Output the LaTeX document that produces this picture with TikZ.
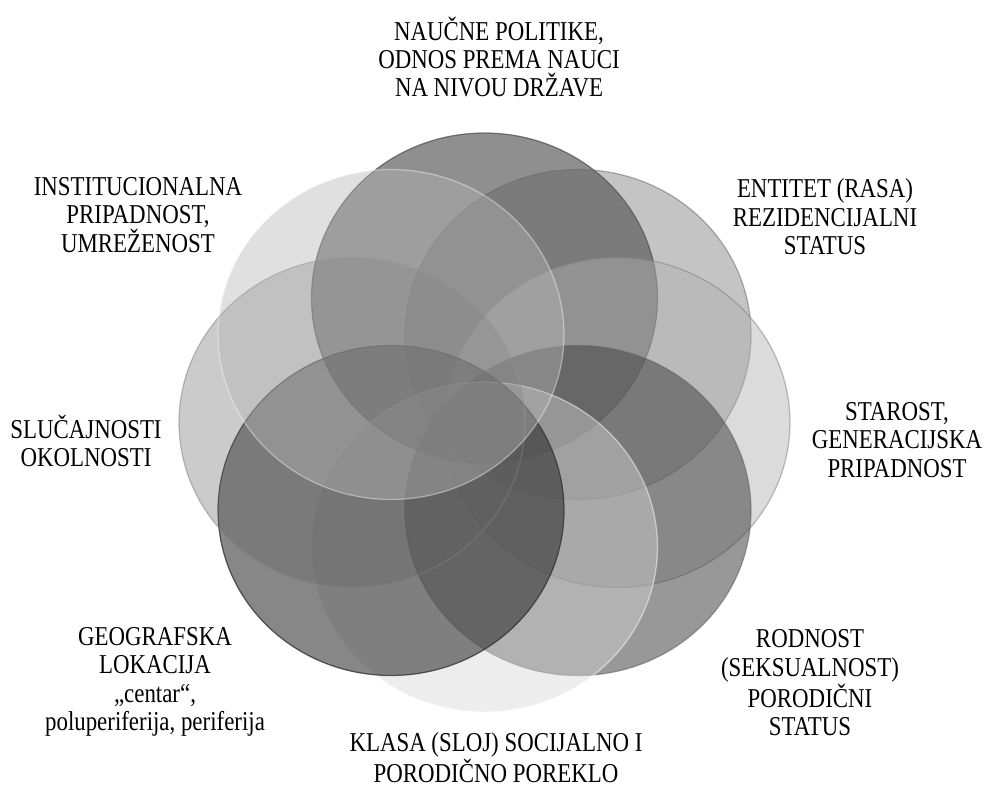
\documentclass[tikz,border=0pt]{standalone}
\usepackage{fontspec}
\setmainfont{Liberation Serif}[FakeStretch=0.84]
\definecolor{cT}{gray}{0.27}
\definecolor{cUR}{gray}{0.34}
\definecolor{cR}{gray}{0.69}
\definecolor{cLR}{gray}{0.27}
\definecolor{cB}{gray}{0.84}
\definecolor{cLL}{gray}{0.145}
\definecolor{cL}{gray}{0.375}
\definecolor{cUL}{gray}{0.71}
\tikzset{
  venn/.style={line width=0.7pt},
  lbl/.style={align=center, inner sep=0pt, font=\fontsize{15.5pt}{16.2pt}\selectfont},
}
\begin{document}
\begin{tikzpicture}[x=0.02cm, y=-0.02cm]
\useasboundingbox (0,0) rectangle (984,787);
\fill[white] (0,0) rectangle (984,787);
% circles, drawn clockwise from the top
\filldraw[venn, fill=cT, fill opacity=0.6, draw=black!70, draw opacity=0.7] (484.5,298) ellipse [x radius=3.46cm, y radius=3.3cm];
\filldraw[venn, fill=cUR, fill opacity=0.35, draw=black!60, draw opacity=0.5] (578,334.5) ellipse [x radius=3.46cm, y radius=3.3cm];
\filldraw[venn, fill=cR, fill opacity=0.45, draw=black!50, draw opacity=0.5] (617,422.5) ellipse [x radius=3.46cm, y radius=3.3cm];
\filldraw[venn, fill=cLR, fill opacity=0.55, draw=black!60, draw opacity=0.6] (578,510.5) ellipse [x radius=3.46cm, y radius=3.3cm];
\filldraw[venn, fill=cB, fill opacity=0.43, draw=white, draw opacity=0.5] (484.5,547) ellipse [x radius=3.46cm, y radius=3.3cm];
\filldraw[venn, fill=cLL, fill opacity=0.55, draw=black!80, draw opacity=0.8] (391,510.5) ellipse [x radius=3.46cm, y radius=3.3cm];
\filldraw[venn, fill=cL, fill opacity=0.32, draw=black!50, draw opacity=0.5] (352,422.5) ellipse [x radius=3.46cm, y radius=3.3cm];
\filldraw[venn, fill=cUL, fill opacity=0.41, draw=white, draw opacity=0.4] (391,334.5) ellipse [x radius=3.46cm, y radius=3.3cm];
% labels
\node[lbl] (lT) at (499,57) {NAUČNE POLITIKE,\\ODNOS PREMA NAUCI\\NA NIVOU DRŽAVE};
\node[lbl] (lUR) at (825,217) {ENTITET (RASA)\\REZIDENCIJALNI\\STATUS};
\node[lbl] (lR) at (897,440) {STAROST,\\GENERACIJSKA\\PRIPADNOST};
\node[lbl] (lLR) at (810,683) {RODNOST\\(SEKSUALNOST)\\PORODIČNI\\STATUS};
\node[lbl] (lB) at (496,758) {KLASA (SLOJ) SOCIJALNO I\\PORODIČNO POREKLO};
\node[lbl] (lLL) at (155,682) {GEOGRAFSKA\\LOKACIJA\\„centar“,\\poluperiferija, periferija};
\node[lbl] (lL) at (86,441) {SLUČAJNOSTI\\OKOLNOSTI};
\node[lbl] (lUL) at (138,215) {INSTITUCIONALNA\\PRIPADNOST,\\UMREŽENOST};
\end{tikzpicture}
\end{document}
